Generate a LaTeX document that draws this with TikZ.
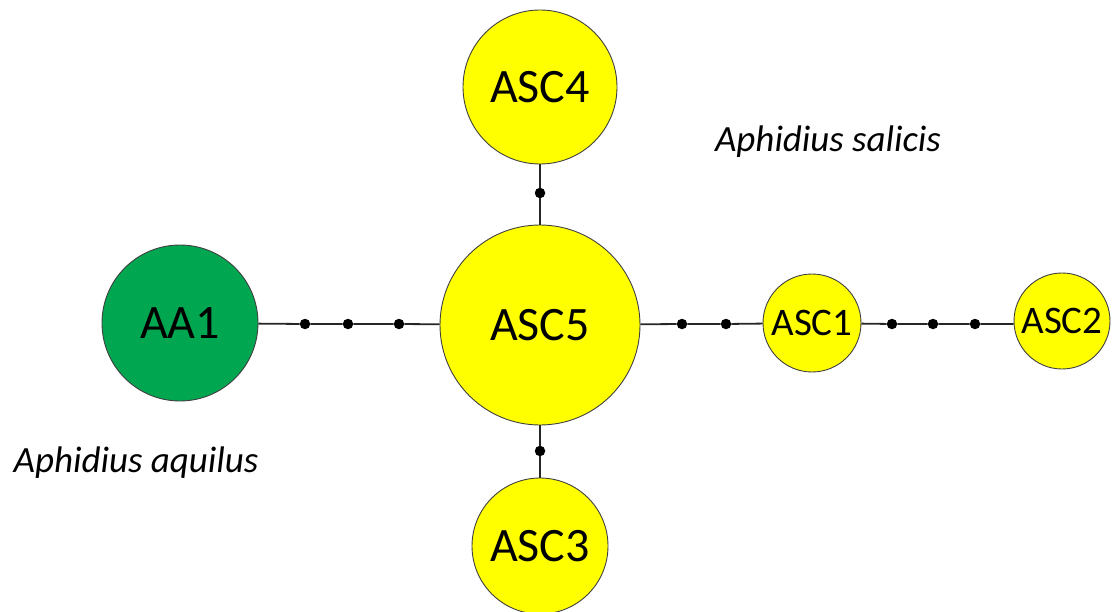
\documentclass[tikz,border=0pt]{standalone}
\usepackage{fontspec}
\setmainfont{Carlito}
\definecolor{hapgreen}{RGB}{0,166,80}
\definecolor{hapyellow}{RGB}{255,255,0}
\begin{document}
\begin{tikzpicture}[x=1pt,y=-1pt,
  hap/.style={circle,draw=black!75,line width=0.9pt,inner sep=0pt,minimum size=#1},
  yhap/.style={hap=#1,fill=hapyellow},
  ghap/.style={hap=#1,fill=hapgreen},
  big/.style={font=\fontsize{48}{54}\selectfont},
  small/.style={font=\fontsize{39}{44}\selectfont},
  mdot/.style={circle,fill=black,inner sep=0pt,minimum size=10.5pt},
  link/.style={line width=1.8pt,draw=black!85},
  species/.style={font=\fontsize{37}{42}\selectfont\itshape}
]
\clip (0,0) rectangle (1113,612);
\useasboundingbox (0,0) rectangle (1113,612);
\node[ghap=156pt,big] (AA1) at (180,323) {AA1};
\node[yhap=200pt,big] (ASC5) at (540,325) {ASC5};
\node[yhap=154pt,big] (ASC4) at (540,87) {ASC4};
\node[yhap=136pt,big] (ASC3) at (540,546) {ASC3};
\node[yhap=98pt,small] (ASC1) at (812,323) {ASC1};
\node[yhap=96pt,small] (ASC2) at (1062,321) {ASC2};
\node[mdot] (d1) at (305,324) {};
\node[mdot] (d2) at (348,324) {};
\node[mdot] (d3) at (399,324) {};
\node[mdot] (d4) at (682,324) {};
\node[mdot] (d5) at (726,324) {};
\node[mdot] (d6) at (892,324) {};
\node[mdot] (d7) at (933,324) {};
\node[mdot] (d8) at (975,324) {};
\node[mdot] (d9) at (540,193) {};
\node[mdot] (d10) at (540,451) {};
\draw[link] (AA1) -- (d1) -- (d2) -- (d3) -- (ASC5);
\draw[link] (ASC5) -- (d4) -- (d5) -- (ASC1);
\draw[link] (ASC1) -- (d6) -- (d7) -- (d8) -- (ASC2.west |- d8);
\draw[link] (ASC4) -- (d9) -- (ASC5);
\draw[link] (ASC5) -- (d10) -- (ASC3);
\node[species] (sal) at (828,142) {Aphidius salicis};
\node[species] (aqu) at (136,463) {Aphidius aquilus};
\end{tikzpicture}
\end{document}
